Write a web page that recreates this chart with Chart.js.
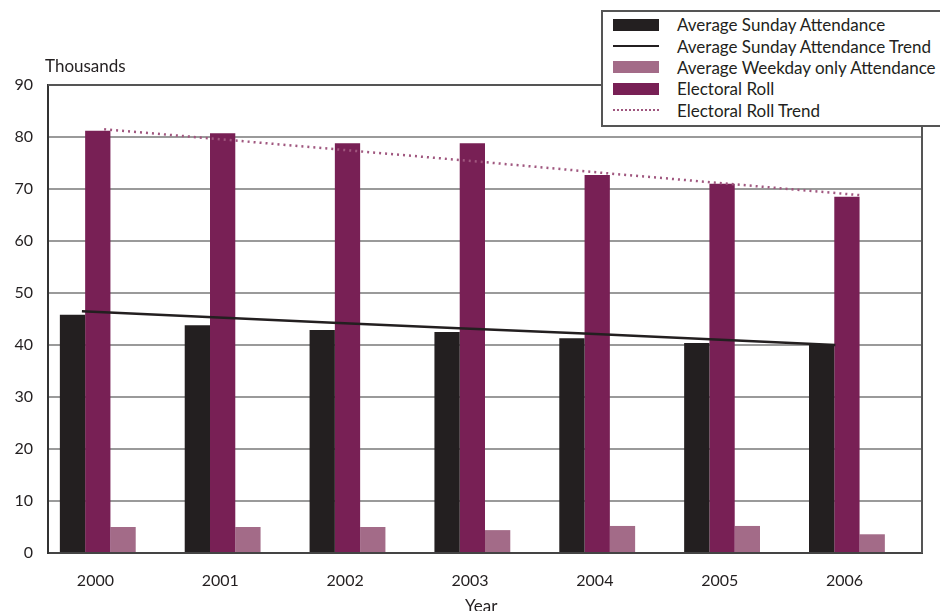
<!DOCTYPE html>
<html>
<head>
<meta charset="utf-8">
<script src="https://cdn.jsdelivr.net/npm/chart.js@4/dist/chart.umd.min.js"></script>
<style>
  body { margin: 0; background: #fff; font-family: Lato, sans-serif; color: #231f20; }
  #wrap { position: relative; width: 940px; height: 611px; overflow: hidden; }
  canvas { position: absolute; left: 0; top: 0; }
  .lbl { position: absolute; font-size: 17px; white-space: nowrap; }
  #legend { position: absolute; left: 601px; top: 10px; width: 360px; height: 117px;
            border: 2px solid #555; background: #fff; box-sizing: border-box; padding-top: 2px; }
  .row { display: flex; align-items: center; height: 21.4px; font-size: 17px; }
  .sw { width: 46px; margin-left: 10px; margin-right: 18px; }
</style>
</head>
<body>
<div id="wrap">
  <canvas id="bars" width="940" height="611"></canvas>
  <canvas id="trends" width="940" height="611"></canvas>
  <div class="lbl" style="left:45px; top:55px;">Thousands</div>
  <div class="lbl" style="left:465px; top:595px;">Year</div>
  <div id="legend"></div>
</div>
<script>
// values (thousands)
const years = ['2000', '2001', '2002', '2003', '2004', '2005', '2006'];
const sunday = [45.8, 43.8, 42.9, 42.5, 41.3, 40.4, 40.0];
const sundayTrend = [46.5, 45.4, 44.3, 43.2, 42.2, 41.1, 40.0];
const weekday = [5.0, 5.0, 5.0, 4.4, 5.2, 5.2, 3.6];
const electoral = [81.2, 80.7, 78.8, 78.8, 72.7, 71.0, 68.5];
const electoralTrend = [81.5, 79.4, 77.3, 75.2, 73.0, 70.9, 68.8];

const dark = '#231f20';
const plum = '#782055';
const mauve = '#a36b88';
const dotPlum = '#a0577f';
const font = { family: 'Lato', size: 16 };

// frame round the plot area
const frame = {
  id: 'frame',
  afterDatasetsDraw(chart) {
    const { ctx, chartArea: a } = chart;
    ctx.save();
    ctx.strokeStyle = '#555';
    ctx.lineWidth = 2;
    ctx.beginPath();
    ctx.moveTo(a.left, a.top);
    ctx.lineTo(a.right, a.top);
    ctx.lineTo(a.right, a.bottom);
    ctx.stroke();
    ctx.restore();
  }
};

new Chart(document.getElementById('bars'), {
  type: 'bar',
  data: {
    labels: years,
    datasets: [
      { label: 'Average Sunday Attendance', data: sunday, backgroundColor: dark },
      { label: 'Electoral Roll', data: electoral, backgroundColor: plum },
      { label: 'Average Weekday only Attendance', data: weekday, backgroundColor: mauve },
      // empty slot, keeps the groups left of the category centre
      { label: '', data: years.map(() => 0), backgroundColor: 'rgba(0,0,0,0)' }
    ]
  },
  options: {
    responsive: false,
    devicePixelRatio: 1,
    animation: false,
    layout: { padding: { top: 85, right: 18, left: 0, bottom: 0 } },
    datasets: { bar: { categoryPercentage: 0.81, barPercentage: 1 } },
    plugins: { legend: { display: false }, tooltip: { enabled: false } },
    scales: {
      x: {
        grid: { display: false },
        border: { color: '#444', width: 2 },
        ticks: { font, color: dark, labelOffset: -15, padding: 10 },
        afterFit: s => { s.height = 58; }
      },
      y: {
        min: 0, max: 90,
        ticks: { stepSize: 10, font, color: dark, padding: 15 },
        grid: { color: '#9a9a9a', lineWidth: 2, drawTicks: false },
        border: { color: '#333', width: 2 },
        afterFit: s => { s.width = 48; }
      }
    }
  },
  plugins: [frame]
});

// trend lines on a transparent chart laid over the bars
new Chart(document.getElementById('trends'), {
  type: 'line',
  data: {
    datasets: [
      { label: 'Average Sunday Attendance Trend', xAxisID: 'xs',
        data: years.map((y, i) => ({ x: Number(y), y: sundayTrend[i] })),
        borderColor: dark, borderWidth: 2.5, pointRadius: 0 },
      { label: 'Electoral Roll Trend', xAxisID: 'xe',
        data: years.map((y, i) => ({ x: Number(y), y: electoralTrend[i] })),
        borderColor: dotPlum, borderWidth: 2.5, borderDash: [2, 4], pointRadius: 0 }
    ]
  },
  options: {
    responsive: false,
    devicePixelRatio: 1,
    animation: false,
    layout: { padding: { top: 85, right: 18, left: 48, bottom: 58 } },
    plugins: { legend: { display: false }, tooltip: { enabled: false } },
    scales: {
      xs: { type: 'linear', display: false, min: 1999.73, max: 2006.69 },
      xe: { type: 'linear', display: false, min: 1999.555, max: 2006.485 },
      y: { display: false, min: 0, max: 90 }
    }
  }
});

// legend in the reference order
const legendItems = [
  { text: 'Average Sunday Attendance', kind: 'box', color: dark },
  { text: 'Average Sunday Attendance Trend', kind: 'line', color: dark },
  { text: 'Average Weekday only Attendance', kind: 'box', color: mauve },
  { text: 'Electoral Roll', kind: 'box', color: plum },
  { text: 'Electoral Roll Trend', kind: 'dots', color: dotPlum }
];
const legend = document.getElementById('legend');
legendItems.forEach(it => {
  const row = document.createElement('div');
  row.className = 'row';
  const sw = document.createElement('div');
  sw.className = 'sw';
  if (it.kind === 'box') { sw.style.height = '12px'; sw.style.background = it.color; }
  else if (it.kind === 'line') { sw.style.borderTop = '2px solid ' + it.color; }
  else { sw.style.borderTop = '2px dotted ' + it.color; }
  const t = document.createElement('span');
  t.textContent = it.text;
  row.appendChild(sw);
  row.appendChild(t);
  legend.appendChild(row);
});
</script>
</body>
</html>
